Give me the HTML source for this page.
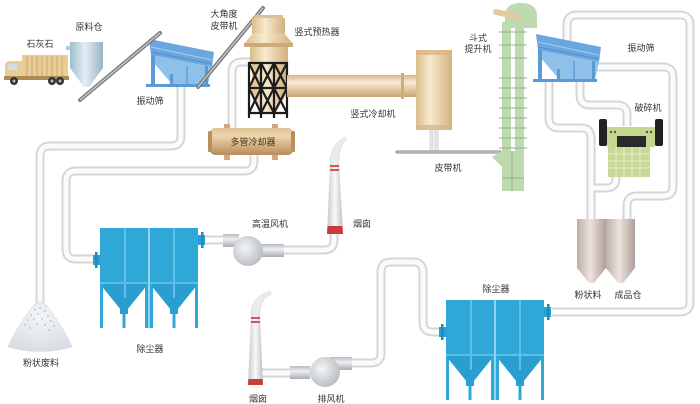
<!DOCTYPE html>
<html><head><meta charset="utf-8"><style>
html,body{margin:0;padding:0;background:#fff;}
svg{display:block;}
text{font-family:"Liberation Sans","Noto Sans CJK SC",sans-serif;font-size:9px;fill:#333;text-anchor:middle;}
</style></head><body>
<svg width="700" height="404" viewBox="0 0 700 404" xmlns="http://www.w3.org/2000/svg">
<defs>
<linearGradient id="tanH" x1="0" y1="0" x2="0" y2="1"><stop offset="0" stop-color="#d8b887"/><stop offset=".35" stop-color="#f6ead4"/><stop offset="1" stop-color="#caa470"/></linearGradient>
<linearGradient id="tanV" x1="0" y1="0" x2="1" y2="0"><stop offset="0" stop-color="#dcbc8c"/><stop offset=".4" stop-color="#f6eacf"/><stop offset="1" stop-color="#d2b07e"/></linearGradient>
<linearGradient id="coolG" x1="0" y1="0" x2="0" y2="1"><stop offset="0" stop-color="#dfc294"/><stop offset=".3" stop-color="#ecd6ae"/><stop offset="1" stop-color="#b88b5a"/></linearGradient>
<linearGradient id="grayH" x1="0" y1="0" x2="0" y2="1"><stop offset="0" stop-color="#b8bcc0"/><stop offset=".4" stop-color="#eceef0"/><stop offset="1" stop-color="#a9aeb3"/></linearGradient>
<radialGradient id="fanG" cx=".4" cy=".4" r=".7"><stop offset="0" stop-color="#f4f5f6"/><stop offset="1" stop-color="#b3b8bd"/></radialGradient>
<linearGradient id="chimG" x1="0" y1="0" x2="1" y2="0"><stop offset="0" stop-color="#c6c9cc"/><stop offset=".5" stop-color="#f7f8f9"/><stop offset="1" stop-color="#bcc0c3"/></linearGradient>
<linearGradient id="siloG" x1="0" y1="0" x2="1" y2="0"><stop offset="0" stop-color="#bdaea8"/><stop offset=".45" stop-color="#ece3df"/><stop offset="1" stop-color="#b0a09a"/></linearGradient>
<linearGradient id="rawG" x1="0" y1="0" x2="1" y2="0"><stop offset="0" stop-color="#9fbdd0"/><stop offset=".45" stop-color="#e3edf3"/><stop offset="1" stop-color="#98b4c6"/></linearGradient>
<radialGradient id="pileG" cx=".5" cy=".3" r=".8"><stop offset="0" stop-color="#f3f6f8"/><stop offset="1" stop-color="#d3dbe1"/></radialGradient>

<path id="p1" d="M181,86 V136 Q181,146 171,146 H50 Q40,146 40,156 V303"/>
<path id="p2" d="M254,152 V161 Q254,171 244,171 H76 Q66,171 66,181 V249 Q66,259 76,259 H94"/>
<path id="p3" d="M250,62 H242 Q232,62 232,72 V128"/>
<path id="p4a" d="M204,240 H225"/>
<path id="p4b" d="M283,250 H324 Q334,250 334,240 V232"/>
<path id="p5a" d="M261,373 H292"/>
<path id="p5b" d="M351,363 H371 Q381,363 381,353 V272 Q381,262 391,262 H413 Q423,262 423,272 V322 Q423,332 433,332 H441"/>
<path id="p6" d="M552,312 H680 Q690,312 690,302 V25 Q690,15 680,15 H577 Q567,15 567,25 V46"/>
<path id="p7" d="M597,67 H663 Q673,67 673,77 V186 Q673,196 663,196 H637 Q627,196 627,206 V220"/>
<path id="p8" d="M549,80 V118 Q549,128 559,128 H581 Q591,128 591,138 V220"/>
<path id="p9" d="M580,80 V95 Q580,105 590,105 H617 Q627,105 627,115 V126"/>
<path id="p10" d="M616,175 V178 Q616,188 606,188 H591"/>

<g id="dc">
<rect x="0" y="0" width="98" height="56" fill="#2fa8d8"/>
<polygon points="0,56 48,56 27,82 21,82" fill="#2a9fcf"/>
<polygon points="50,56 98,56 77,82 71,82" fill="#2a9fcf"/>
<rect x="0" y="54" width="98" height="2" fill="#5cc0e6"/>
<rect x="24" y="0" width="2" height="70" fill="#5ec2e8"/>
<rect x="73" y="0" width="2" height="70" fill="#5ec2e8"/>
<rect x="0" y="56" width="3" height="44" fill="#2fa8d8"/>
<rect x="45" y="56" width="3" height="44" fill="#2fa8d8"/>
<rect x="50" y="56" width="3" height="44" fill="#2fa8d8"/>
<rect x="95" y="56" width="3" height="44" fill="#2fa8d8"/>
<rect x="48" y="0" width="2" height="100" fill="#8fd5ef"/>
<rect x="20" y="80" width="8" height="6" fill="#2a9fcf"/>
<rect x="22.5" y="86" width="3" height="14" fill="#2fa8d8"/>
<rect x="70" y="80" width="8" height="6" fill="#2a9fcf"/>
<rect x="72.5" y="86" width="3" height="14" fill="#2fa8d8"/>
<rect x="-7" y="27" width="7" height="10" fill="#2aa0d0"/>
<rect x="-5" y="24" width="2.5" height="16" fill="#1e8cbc"/>
<rect x="98" y="7" width="7" height="10" fill="#2aa0d0"/>
<rect x="101" y="4" width="2.5" height="16" fill="#1e8cbc"/>
</g>

<g id="scr">
<polygon points="149,39 214,52 212,67 151,55" fill="#6aa7de"/>
<line x1="151" y1="47" x2="212" y2="60" stroke="#a6cdf0" stroke-width="1"/>
<line x1="151" y1="52" x2="212" y2="64" stroke="#4f8fcb" stroke-width="1"/>
<polygon points="151,55 212,67 208,84 172,84 153,62" fill="#8fc0ea"/>
<rect x="151" y="55" width="4" height="30" fill="#5b9bd5"/>
<rect x="170" y="74" width="3" height="11" fill="#5b9bd5"/>
<rect x="186" y="66" width="2" height="19" fill="#6aa7de"/>
<rect x="205" y="66" width="3" height="19" fill="#5b9bd5"/>
<rect x="146" y="84" width="64" height="3" fill="#5b9bd5"/>
</g>
</defs>

<!-- pipes -->
<g fill="none" stroke="#d4d6d8" stroke-width="9">
<use href="#p1"/><use href="#p2"/><use href="#p3"/><use href="#p4a"/><use href="#p4b"/><use href="#p5a"/><use href="#p5b"/><use href="#p6"/><use href="#p7"/><use href="#p8"/><use href="#p9"/><use href="#p10"/>
</g>
<g fill="none" stroke="#fbfbfb" stroke-width="5">
<use href="#p1"/><use href="#p2"/><use href="#p3"/><use href="#p4a"/><use href="#p4b"/><use href="#p5a"/><use href="#p5b"/><use href="#p6"/><use href="#p7"/><use href="#p8"/><use href="#p9"/><use href="#p10"/>
</g>

<!-- truck -->
<rect x="22" y="55" width="46" height="22" fill="#e9cc96"/>
<g stroke="#cba872" stroke-width="1">
<line x1="27" y1="56" x2="27" y2="76"/><line x1="32" y1="56" x2="32" y2="76"/><line x1="37" y1="56" x2="37" y2="76"/><line x1="42" y1="56" x2="42" y2="76"/><line x1="47" y1="56" x2="47" y2="76"/><line x1="52" y1="56" x2="52" y2="76"/><line x1="57" y1="56" x2="57" y2="76"/><line x1="62" y1="56" x2="62" y2="76"/>
</g>
<path d="M5,79 V66 Q5,61 10,61 H22 V79 Z" fill="#e9cc96"/>
<path d="M8,67 Q8,64 11,64 H17 V70 H8 Z" fill="#cfe0ea"/>
<rect x="4" y="76" width="65" height="4" fill="#b08a55"/>
<circle cx="14" cy="81" r="4" fill="#333"/><circle cx="14" cy="81" r="1.5" fill="#bbb"/>
<circle cx="52" cy="81" r="4" fill="#333"/><circle cx="52" cy="81" r="1.5" fill="#bbb"/>
<circle cx="60" cy="81" r="4" fill="#333"/><circle cx="60" cy="81" r="1.5" fill="#bbb"/>

<!-- raw silo -->
<rect x="66" y="46" width="5" height="4" fill="#b5ccdb"/>
<rect x="70" y="42" width="33" height="26" fill="url(#rawG)"/>
<polygon points="70,68 103,68 89,87 84,87" fill="url(#rawG)"/>

<!-- screens -->
<use href="#scr"/>
<use href="#scr" transform="translate(387,-5)"/>

<!-- belts -->
<g stroke-linecap="round">
<line x1="80" y1="100" x2="160" y2="33" stroke="#7a7a7a" stroke-width="4"/>
<line x1="80" y1="100" x2="160" y2="33" stroke="#cfcfcf" stroke-width="1.2"/>
<line x1="198" y1="87" x2="263" y2="8" stroke="#7a7a7a" stroke-width="4"/>
<line x1="198" y1="87" x2="263" y2="8" stroke="#cfcfcf" stroke-width="1.2"/>
</g>

<!-- preheater -->
<polygon points="252,62 286,62 286,95 276,112 262,112 252,95" fill="url(#tanV)"/>
<rect x="254" y="15" width="29" height="4" fill="#dcc096"/>
<rect x="252" y="18" width="33" height="16" fill="url(#tanV)"/>
<polygon points="253,33 284,33 293,44 244,44" fill="url(#tanV)"/>
<rect x="244" y="43" width="49" height="4" fill="#cfa978"/>
<rect x="250" y="47" width="38" height="16" fill="url(#tanV)"/>
<g stroke="#1c1c1c" stroke-width="2.2" fill="none">
<line x1="249" y1="62" x2="249" y2="118"/><line x1="261" y1="62" x2="261" y2="118"/><line x1="274" y1="62" x2="274" y2="118"/><line x1="287" y1="62" x2="287" y2="118"/>
<line x1="248" y1="63" x2="288" y2="63"/><line x1="248" y1="88" x2="288" y2="88"/><line x1="248" y1="113" x2="288" y2="113"/>
<path d="M249,63 L261,88 M261,63 L249,88 M261,63 L274,88 M274,63 L261,88 M274,63 L287,88 M287,63 L274,88"/>
<path d="M249,88 L261,113 M261,88 L249,113 M261,88 L274,113 M274,88 L261,113 M274,88 L287,113 M287,88 L274,113"/>
</g>

<!-- horizontal duct -->
<rect x="287" y="75" width="130" height="22" fill="url(#tanH)"/>
<rect x="401" y="73" width="3" height="26" fill="#cfab78"/>

<!-- vertical cooler -->
<rect x="430" y="129" width="3" height="22" fill="#e6e6e6" stroke="#c8c8c8" stroke-width=".6"/>
<rect x="435" y="129" width="3" height="22" fill="#e6e6e6" stroke="#c8c8c8" stroke-width=".6"/>
<rect x="416" y="50" width="36" height="80" fill="url(#tanV)"/>
<rect x="416" y="50" width="36" height="5" fill="#d9b784" opacity=".8"/>
<rect x="416" y="125" width="36" height="5" fill="#d9b784" opacity=".8"/>

<!-- belt conveyor -->
<line x1="397" y1="152" x2="500" y2="152" stroke="#8a8a8a" stroke-width="3" stroke-linecap="round"/>
<line x1="397" y1="152" x2="500" y2="152" stroke="#dcdcdc" stroke-width="1"/>

<!-- multi-tube cooler -->
<rect x="224" y="124" width="6" height="5" fill="#cfa978"/>
<rect x="272" y="124" width="6" height="5" fill="#cfa978"/>
<rect x="224" y="154" width="6" height="6" fill="#cfa978"/>
<rect x="272" y="154" width="6" height="6" fill="#cfa978"/>
<rect x="210" y="128" width="83" height="27" rx="5" fill="url(#coolG)"/>
<rect x="208" y="131" width="4" height="21" rx="1" fill="#bb8e5e"/>
<rect x="291" y="131" width="4" height="21" rx="1" fill="#bb8e5e"/>

<!-- bucket elevator -->
<g fill="#bedab0">
<rect x="502" y="22" width="9" height="132"/>
<rect x="515" y="22" width="9" height="132"/>
<path d="M505,28 L505,16 Q505,3 521,3 Q537,3 537,16 L537,28 Z"/>
<polygon points="492,157 502,151 524,151 524,191 502,191 502,167"/>
</g>
<g stroke="#94b485" stroke-width="1">
<line x1="499" y1="32" x2="527" y2="32"/><line x1="499" y1="45" x2="527" y2="45"/><line x1="499" y1="58" x2="527" y2="58"/><line x1="499" y1="78" x2="527" y2="78"/><line x1="499" y1="88" x2="527" y2="88"/><line x1="499" y1="98" x2="527" y2="98"/><line x1="499" y1="108" x2="527" y2="108"/><line x1="499" y1="118" x2="527" y2="118"/><line x1="499" y1="128" x2="527" y2="128"/><line x1="499" y1="138" x2="527" y2="138"/><line x1="499" y1="148" x2="527" y2="148"/>
<line x1="512" y1="151" x2="512" y2="191"/><line x1="502" y1="178" x2="524" y2="178"/>
</g>
<line x1="496" y1="12" x2="518" y2="17" stroke="#e6c9a0" stroke-width="6" stroke-linecap="round"/>

<!-- crusher -->
<rect x="599" y="119" width="8" height="27" rx="2" fill="#222"/>
<rect x="655" y="119" width="8" height="27" rx="2" fill="#222"/>
<rect x="607" y="127" width="48" height="20" fill="#c5d68f"/>
<rect x="617" y="136" width="29" height="11" fill="#2a2a2a"/>
<circle cx="611" cy="132" r="1.2" fill="#555"/><circle cx="615" cy="132" r="1.2" fill="#555"/>
<circle cx="647" cy="132" r="1.2" fill="#555"/><circle cx="651" cy="132" r="1.2" fill="#555"/>
<rect x="608" y="147" width="42" height="30" fill="#c8d995"/>
<g stroke="#e6eec9" stroke-width="1">
<line x1="616" y1="147" x2="616" y2="177"/><line x1="624" y1="147" x2="624" y2="177"/><line x1="632" y1="147" x2="632" y2="177"/><line x1="640" y1="147" x2="640" y2="177"/>
<line x1="608" y1="154" x2="650" y2="154"/><line x1="608" y1="161" x2="650" y2="161"/><line x1="608" y1="168" x2="650" y2="168"/>
</g>

<!-- product silos -->
<rect x="577" y="219" width="29" height="49" fill="url(#siloG)"/>
<polygon points="577,268 606,268 594,283 589,283" fill="url(#siloG)"/>
<rect x="606" y="219" width="29" height="49" fill="url(#siloG)"/>
<polygon points="606,268 635,268 623,283 618,283" fill="url(#siloG)"/>

<!-- dust collectors -->
<use href="#dc" transform="translate(100,228)"/>
<use href="#dc" transform="translate(446,300)"/>

<!-- pile -->
<path d="M8,347 Q16,328 34,305 Q40,299 46,305 Q64,328 72,347 Q40,356 8,347 Z" fill="url(#pileG)" stroke="#cfd6dc" stroke-width=".6"/>
<g fill="#9aa3aa">
<circle cx="35" cy="310" r=".7"/><circle cx="40" cy="308" r=".7"/><circle cx="45" cy="311" r=".7"/><circle cx="31" cy="315" r=".7"/><circle cx="38" cy="314" r=".7"/><circle cx="48" cy="316" r=".7"/><circle cx="28" cy="320" r=".7"/><circle cx="34" cy="319" r=".7"/><circle cx="42" cy="319" r=".7"/><circle cx="51" cy="321" r=".7"/><circle cx="25" cy="325" r=".7"/><circle cx="37" cy="324" r=".7"/><circle cx="45" cy="325" r=".7"/><circle cx="54" cy="326" r=".7"/><circle cx="30" cy="328" r=".7"/><circle cx="49" cy="330" r=".7"/>
</g>

<!-- high temp fan -->
<rect x="223" y="234" width="16" height="13" fill="url(#grayH)"/>
<rect x="261" y="244" width="23" height="13" fill="url(#grayH)"/>
<circle cx="248" cy="251" r="15" fill="url(#fanG)"/>

<!-- exhaust fan -->
<rect x="290" y="366" width="20" height="13" fill="url(#grayH)"/>
<rect x="329" y="357" width="23" height="13" fill="url(#grayH)"/>
<circle cx="325" cy="372" r="15" fill="url(#fanG)"/>

<!-- chimney 1 -->
<path d="M330,165 C330,150 335,142 345,137 L347,139.5 C340,145 339,152 339,165 Z" fill="#e9ebed" stroke="#cfd3d6" stroke-width=".5"/>
<polygon points="330,163 339,163 343,234 327,234" fill="url(#chimG)"/>
<rect x="330" y="165" width="9" height="2" fill="#d45555"/>
<rect x="330" y="169" width="9.2" height="2" fill="#d45555"/>
<polygon points="327.5,226 342.5,226 343,234 327,234" fill="#cc3b3b"/>

<!-- chimney 2 -->
<path d="M251,316 C251,302 257,296 270,291 L271.5,294 C263,298 260,305 260,316 Z" fill="#e9ebed" stroke="#cfd3d6" stroke-width=".5"/>
<polygon points="251,315 260,315 263,385 248,385" fill="url(#chimG)"/>
<rect x="251" y="317" width="9" height="2" fill="#d45555"/>
<rect x="251" y="321" width="9.1" height="2" fill="#d45555"/>
<polygon points="248.3,379 262.7,379 263,385 248,385" fill="#cc3b3b"/>

<!-- labels -->
<text x="40" y="47">石灰石</text>
<text x="89" y="30">原料仓</text>
<text x="224" y="17">大角度</text>
<text x="224" y="29">皮带机</text>
<text x="150" y="104">振动筛</text>
<text x="317" y="35">竖式预热器</text>
<text x="373" y="117">竖式冷却机</text>
<text x="253" y="145" style="fill:#4a3418">多管冷却器</text>
<text x="448" y="171">皮带机</text>
<text x="478" y="41">斗式</text>
<text x="478" y="52">提升机</text>
<text x="641" y="51">振动筛</text>
<text x="648" y="111">破碎机</text>
<text x="588" y="298">粉状料</text>
<text x="628" y="298">成品仓</text>
<text x="496" y="292">除尘器</text>
<text x="150" y="352">除尘器</text>
<text x="41" y="366">粉状废料</text>
<text x="270" y="227">高温风机</text>
<text x="362" y="227">烟囱</text>
<text x="258" y="402">烟囱</text>
<text x="331" y="402">排风机</text>
</svg>
</body></html>
